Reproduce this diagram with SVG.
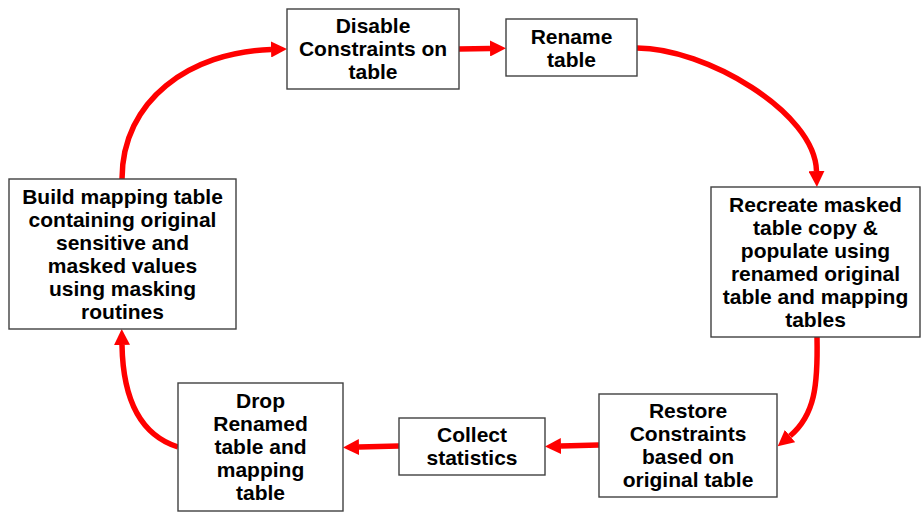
<svg xmlns="http://www.w3.org/2000/svg" width="921" height="513" viewBox="0 0 921 513">
<defs>
<marker id="ah" viewBox="0 0 16 16" refX="0" refY="8" markerWidth="16" markerHeight="16" markerUnits="userSpaceOnUse" orient="auto">
<path d="M0,0 L16,8 L0,16 z" fill="#ff0000"/>
</marker>
<style>
.box{fill:#ffffff;stroke:#404040;stroke-width:1.4}
.t{font-family:"Liberation Sans",Arial,sans-serif;font-weight:bold;font-size:21px;fill:#000;text-anchor:middle}
.c{fill:none;stroke:#ff0000;stroke-width:5.5;marker-end:url(#ah)}
</style>
</defs>
<rect width="921" height="513" fill="#ffffff"/>
<g id="connectors">
<path class="c" d="M122,179 C122,100 190,52 271,49.5"/>
<path class="c" d="M459,49 L490,48.5"/>
<path class="c" d="M637,48 C705,48 815,112 816.5,171"/>
<path class="c" d="M817,337 C818,385 815,415 790,436"/>
<path class="c" d="M599,445 L561,446"/>
<path class="c" d="M399,446 L359,447"/>
<path class="c" d="M178,447 C140,435 123,400 122,345"/>
</g>
<g id="n-disable">
<rect class="box" x="287" y="9" width="172" height="80"/>
<text class="t" x="373" y="33">Disable</text>
<text class="t" x="373" y="56">Constraints on</text>
<text class="t" x="373" y="79">table</text>
</g>
<g id="n-rename">
<rect class="box" x="506" y="19" width="131" height="57"/>
<text class="t" x="571.5" y="44">Rename</text>
<text class="t" x="571.5" y="67">table</text>
</g>
<g id="n-recreate">
<rect class="box" x="711" y="187" width="209" height="150"/>
<text class="t" x="815.5" y="212">Recreate masked</text>
<text class="t" x="815.5" y="235">table copy &amp;</text>
<text class="t" x="815.5" y="258">populate using</text>
<text class="t" x="815.5" y="281">renamed original</text>
<text class="t" x="815.5" y="304">table and mapping</text>
<text class="t" x="815.5" y="327">tables</text>
</g>
<g id="n-restore">
<rect class="box" x="599" y="394" width="178" height="103"/>
<text class="t" x="688" y="418">Restore</text>
<text class="t" x="688" y="441">Constraints</text>
<text class="t" x="688" y="464">based on</text>
<text class="t" x="688" y="487">original table</text>
</g>
<g id="n-collect">
<rect class="box" x="399" y="418" width="146" height="57"/>
<text class="t" x="472" y="442">Collect</text>
<text class="t" x="472" y="465">statistics</text>
</g>
<g id="n-drop">
<rect class="box" x="178" y="383" width="165" height="128"/>
<text class="t" x="260.5" y="408">Drop</text>
<text class="t" x="260.5" y="431">Renamed</text>
<text class="t" x="260.5" y="454">table and</text>
<text class="t" x="260.5" y="477">mapping</text>
<text class="t" x="260.5" y="500">table</text>
</g>
<g id="n-build">
<rect class="box" x="9" y="179" width="227" height="150"/>
<text class="t" x="122.5" y="204">Build mapping table</text>
<text class="t" x="122.5" y="227">containing original</text>
<text class="t" x="122.5" y="250">sensitive and</text>
<text class="t" x="122.5" y="273">masked values</text>
<text class="t" x="122.5" y="296">using masking</text>
<text class="t" x="122.5" y="319">routines</text>
</g>
</svg>
